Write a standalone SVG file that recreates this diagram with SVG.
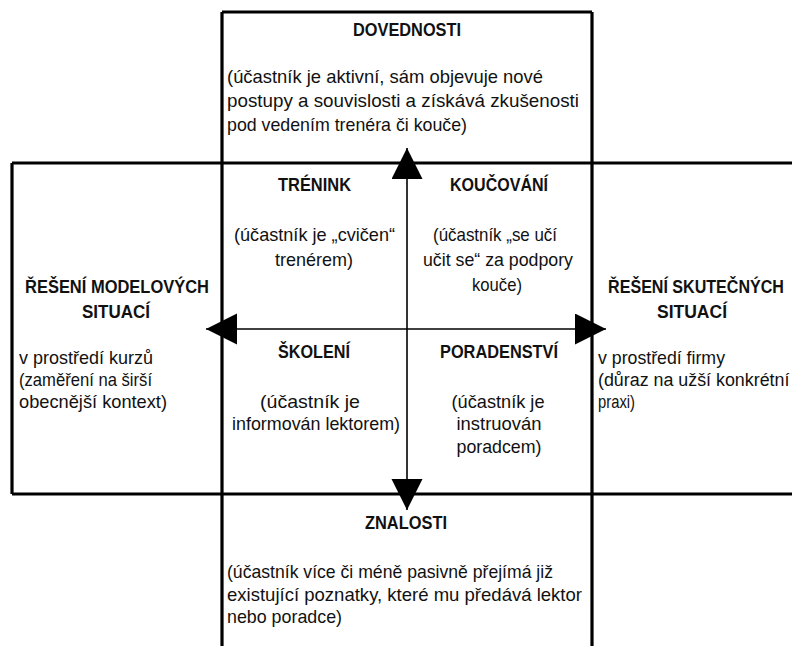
<svg xmlns="http://www.w3.org/2000/svg" width="792" height="646" viewBox="0 0 792 646">
<style>
  text { font-family: "Liberation Sans", Arial, sans-serif; fill: #111; }
  .t { font-size: 18px; font-weight: bold; text-anchor: middle; }
  .b { font-size: 19px; }
  .c { font-size: 19px; text-anchor: middle; }
  .frame { stroke: #000; stroke-width: 3.2; fill: none; }
  .axis { stroke: #000; stroke-width: 1.6; fill: none; marker-start: url(#ah); marker-end: url(#ah); }
</style>
<defs>
  <marker id="ah" markerUnits="userSpaceOnUse" markerWidth="32" markerHeight="32" refX="31" refY="15.5" orient="auto-start-reverse" viewBox="0 0 32 32">
    <path d="M0,0 L31,15.5 L0,31 z" fill="#000"/>
  </marker>
</defs>
<rect width="792" height="646" fill="#fff"/>
<g id="frame">
  <path class="frame" d="M222,12 H592 M222,12 V646 M592,12 V646 M12,163 H792 M12,494 H792 M12,163 V494"/>
</g>
<g id="connectors">
  <line class="axis" x1="407" y1="510" x2="407" y2="148"/>
  <line class="axis" x1="206" y1="329" x2="606" y2="329"/>
</g>
<g id="dovednosti">
  <text class="t" x="407" y="36" textLength="108" lengthAdjust="spacingAndGlyphs">DOVEDNOSTI</text>
  <text class="b" x="227" y="83" textLength="316" lengthAdjust="spacingAndGlyphs">(účastník je aktivní, sám objevuje nové</text>
  <text class="b" x="227" y="107" textLength="352" lengthAdjust="spacingAndGlyphs">postupy a souvislosti a získává zkušenosti</text>
  <text class="b" x="227" y="131" textLength="240" lengthAdjust="spacingAndGlyphs">pod vedením trenéra či kouče)</text>
</g>
<g id="modelove">
  <text class="t" x="117" y="293" textLength="184" lengthAdjust="spacingAndGlyphs">ŘEŠENÍ MODELOVÝCH</text>
  <text class="t" x="116" y="318" textLength="68" lengthAdjust="spacingAndGlyphs">SITUACÍ</text>
  <text class="b" x="19" y="364" textLength="134" lengthAdjust="spacingAndGlyphs">v prostředí kurzů</text>
  <text class="b" x="19" y="386" textLength="133" lengthAdjust="spacingAndGlyphs">(zaměření na širší</text>
  <text class="b" x="19" y="408" textLength="148" lengthAdjust="spacingAndGlyphs">obecnější kontext)</text>
</g>
<g id="skutecne">
  <text class="t" transform="translate(696 293) scale(0.893 1)">ŘEŠENÍ SKUTEČNÝCH</text>
  <text class="t" x="692" y="318" textLength="70" lengthAdjust="spacingAndGlyphs">SITUACÍ</text>
  <text class="b" x="598" y="364" textLength="127" lengthAdjust="spacingAndGlyphs">v prostředí firmy</text>
  <text class="b" transform="translate(598 386) scale(0.94 1)">(důraz na užší konkrétní</text>
  <text class="b" x="598" y="408" textLength="37" lengthAdjust="spacingAndGlyphs">praxi)</text>
</g>
<g id="trenink">
  <text class="t" x="314.5" y="191" textLength="73" lengthAdjust="spacingAndGlyphs">TRÉNINK</text>
  <text class="c" x="314.5" y="241" textLength="161" lengthAdjust="spacingAndGlyphs">(účastník je „cvičen“</text>
  <text class="c" x="314" y="266" textLength="78" lengthAdjust="spacingAndGlyphs">trenérem)</text>
</g>
<g id="koucovani">
  <text class="t" x="499" y="191" textLength="98" lengthAdjust="spacingAndGlyphs">KOUČOVÁNÍ</text>
  <text class="c" x="495" y="241" textLength="124" lengthAdjust="spacingAndGlyphs">(účastník „se učí</text>
  <text class="c" x="498" y="266" textLength="150" lengthAdjust="spacingAndGlyphs">učit se“ za podpory</text>
  <text class="c" x="497" y="291" textLength="50" lengthAdjust="spacingAndGlyphs">kouče)</text>
</g>
<g id="skoleni">
  <text class="t" x="314" y="358" textLength="72" lengthAdjust="spacingAndGlyphs">ŠKOLENÍ</text>
  <text class="c" x="310" y="408" textLength="100" lengthAdjust="spacingAndGlyphs">(účastník je</text>
  <text class="c" x="316" y="430" textLength="168" lengthAdjust="spacingAndGlyphs">informován lektorem)</text>
</g>
<g id="poradenstvi">
  <text class="t" x="499" y="358" textLength="118" lengthAdjust="spacingAndGlyphs">PORADENSTVÍ</text>
  <text class="c" x="498" y="408" textLength="93" lengthAdjust="spacingAndGlyphs">(účastník je</text>
  <text class="c" x="499" y="430" textLength="85" lengthAdjust="spacingAndGlyphs">instruován</text>
  <text class="c" x="499" y="453" textLength="85" lengthAdjust="spacingAndGlyphs">poradcem)</text>
</g>
<g id="znalosti">
  <text class="t" x="406" y="529" textLength="82" lengthAdjust="spacingAndGlyphs">ZNALOSTI</text>
  <text class="b" x="227" y="578" textLength="326" lengthAdjust="spacingAndGlyphs">(účastník více či méně pasivně přejímá již</text>
  <text class="b" x="227" y="601" textLength="355" lengthAdjust="spacingAndGlyphs">existující poznatky, které mu předává lektor</text>
  <text class="b" x="227" y="623" textLength="115" lengthAdjust="spacingAndGlyphs">nebo poradce)</text>
</g>
</svg>
